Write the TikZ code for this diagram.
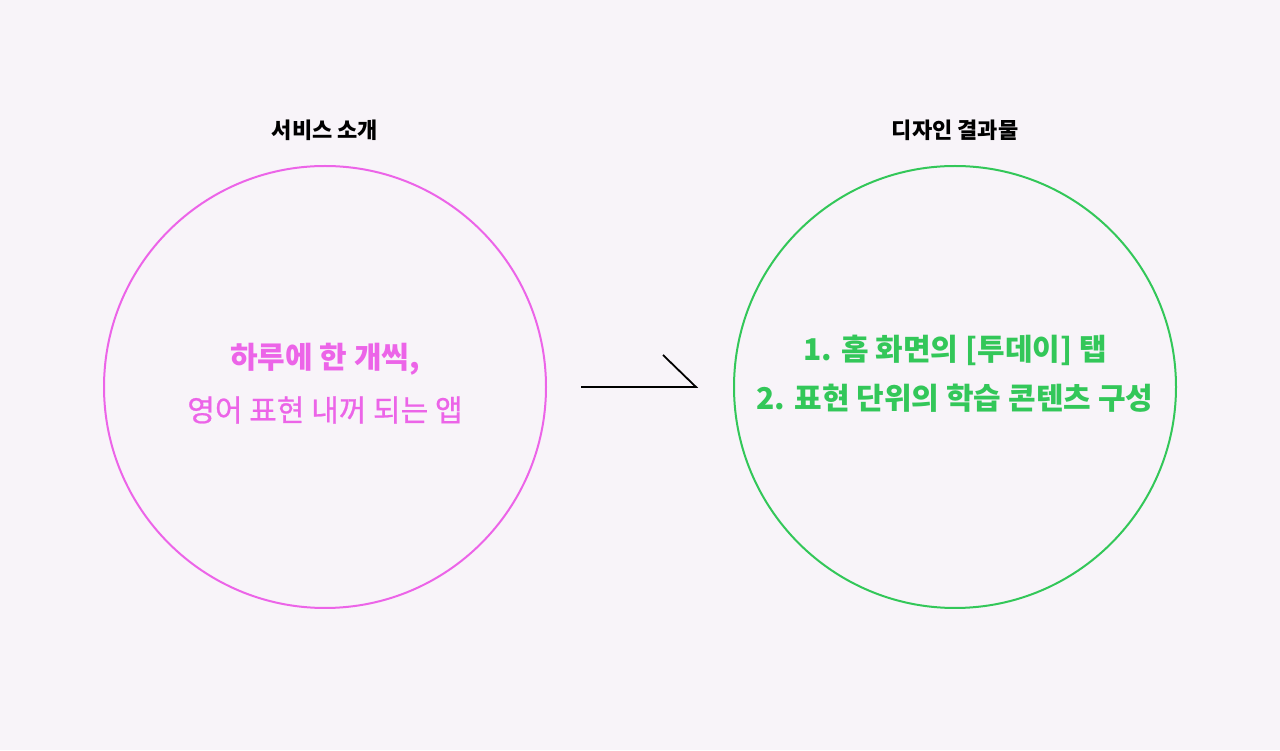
\documentclass[tikz,border=0pt]{standalone}
\usepackage{fontspec}
\setmainfont{Noto Sans CJK KR}
\usepackage{tikz}
\usetikzlibrary{positioning}
\definecolor{bgpaper}{RGB}{248,244,249}
\definecolor{svcpink}{RGB}{236,100,232}
\definecolor{outgreen}{RGB}{51,199,89}

\begin{document}
\begin{tikzpicture}[x=1pt, y=1pt,
    ring/.style={circle, line width=2pt, minimum size=442pt, inner sep=0pt},
    title/.style={font=\bfseries\fontsize{22}{26}\selectfont, text=black},
    big/.style={font=\bfseries\fontsize{30}{34}\selectfont, inner sep=0pt},
    mid/.style={font=\fontsize{30}{34}\selectfont\addfontfeature{FakeBold=0.8}, inner sep=0pt}]
    \fill[bgpaper] (0,0) rectangle (1280,750);
    \useasboundingbox (0,0) rectangle (1280,750);
    \node[ring, draw=svcpink] (svc) at (325, 363) {};
    \node[ring, draw=outgreen] (res) at (955, 363) {};
    \node[title] (svct) at (325, 620) {서비스 소개};
    \node[title] (rest) at (955, 620) {디자인 결과물};
    \node[big, text=svcpink] (svca) at (325, 391) {하루에 한 개씩,};
    \node[mid, text=svcpink] (svcb) at (325, 340) {영어 표현 내꺼 되는 앱};
    \node[big, text=outgreen] (resa) at (955, 400) {1. 홈 화면의 [투데이] 탭};
    \node[big, text=outgreen] (resb) at (955, 352) {2. 표현 단위의 학습 콘텐츠 구성};
    \coordinate (arl) at (581, 363);
    \coordinate (arr) at (696, 363);
    \coordinate (art) at (663, 395);
    \draw[line width=1.8pt] (arl) -- (arr) -- (art);
\end{tikzpicture}
\end{document}
